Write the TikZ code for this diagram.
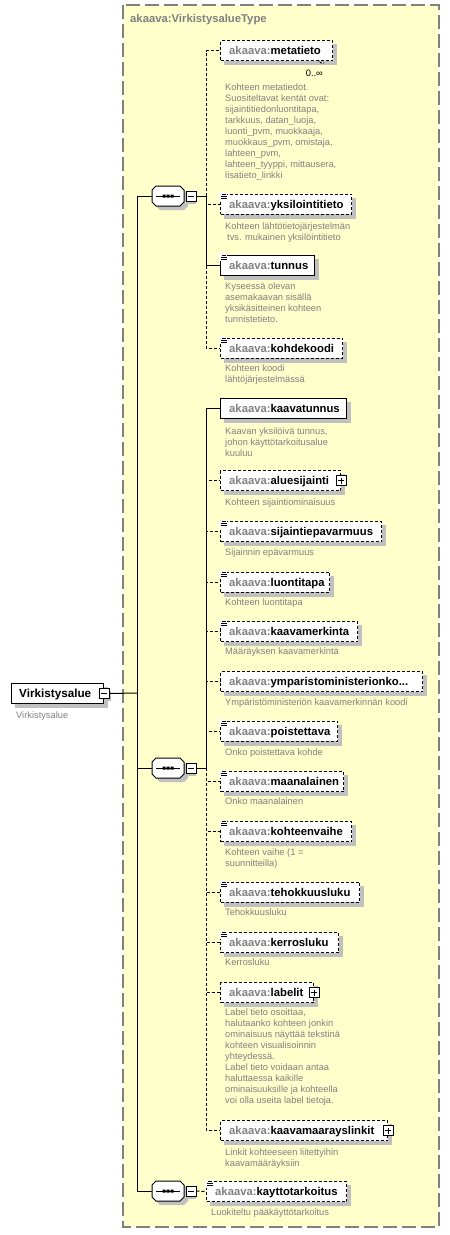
\documentclass[tikz,border=0pt]{standalone}
\usepackage{fontspec}
\setmainfont{Liberation Sans}
\usetikzlibrary{calc}
\definecolor{bgyellow}{HTML}{FFFFCC}
\definecolor{shad}{HTML}{C0C0C0}
\definecolor{tgray}{HTML}{808080}
\pgfdeclarelayer{backlayer}
\pgfdeclarelayer{shadowlayer}
\pgfsetlayers{backlayer,shadowlayer,main}
\tikzset{
  conn/.style={line width=1pt, draw=black},
  optconn/.style={conn, dash pattern=on 3pt off 2pt},
  boxreq/.style={draw=black, line width=1pt, fill=white, minimum height=20pt, inner sep=0pt, anchor=north west},
  boxopt/.style={boxreq, dash pattern=on 3pt off 2pt},
  lbl/.style={font=\fontsize{11.3}{13}\selectfont\bfseries, inner sep=0pt, anchor=base west},
  desc/.style={font=\fontsize{9.3}{10.9}\selectfont, text=tgray, align=left, inner sep=0pt, anchor=north west},
  pmbox/.style={draw=black, fill=white, line width=1pt, minimum size=10pt, inner sep=0pt},
  minusbox/.style={pmbox, path picture={\draw[line width=1pt] ([xshift=-3pt]path picture bounding box.center) -- ([xshift=3pt]path picture bounding box.center);}},
  plusbox/.style={pmbox, path picture={\draw[line width=1pt] ([xshift=-3pt]path picture bounding box.center) -- ([xshift=3pt]path picture bounding box.center) ([yshift=-3pt]path picture bounding box.center) -- ([yshift=3pt]path picture bounding box.center);}},
}
\newcommand\El[6]{%
  \node[#5, minimum width=#4pt-#2pt] (#1) at (#2,#3-10) {};
  \begin{pgfonlayer}{shadowlayer}
    \fill[shad] ([shift={(4pt,-4pt)}]#1.south west) rectangle ([shift={(4pt,-4pt)}]#1.north east);
  \end{pgfonlayer}
  \node[lbl] (#1-t) at ([shift={(9pt,-4pt)}]#1.west) {\textcolor{tgray}{akaava:}#6};
}
\newcommand\Ico[1]{%
  \fill[white] ([shift={(-1.5pt,1.5pt)}]#1.north west) rectangle ([shift={(7pt,-6.5pt)}]#1.north west);
  \draw[line width=0.8pt] ([shift={(2pt,-0.5pt)}]#1.north west) -- ++(4,0)
     ([shift={(1pt,-2.5pt)}]#1.north west) -- ++(6,0)
     ([shift={(1pt,-4.5pt)}]#1.north west) -- ++(6,0);
}
\newcommand\Plus[1]{\node[plusbox] (#1-p) at (#1.east) {};}
\newcommand\Desc[4]{\node[desc] (#1) at (#2,#3-4) {#4};}
\newcommand\Seq[3]{%
  \begin{pgfonlayer}{shadowlayer}
    \fill[shad,shift={(#2+4,#3+4)}] (-16,-6) -- (-12,-10) -- (12,-10) -- (16,-6) -- (16,6) -- (12,10) -- (-12,10) -- (-16,6) -- cycle;
    \fill[shad] (#2+18,#3-2) rectangle (#2+28,#3+8);
  \end{pgfonlayer}
  \draw[line width=1pt, fill=white, shift={(#2,#3)}] (-16,-6) -- (-12,-10) -- (12,-10) -- (16,-6) -- (16,6) -- (12,10) -- (-12,10) -- (-16,6) -- cycle;
  \draw[line width=1pt, shift={(#2,#3)}] (-12,0) -- (12,0);
  \fill[shift={(#2,#3)}] (-5.5,-1.5) rectangle (-2.5,1.5) (-1.5,-1.5) rectangle (1.5,1.5) (2.5,-1.5) rectangle (5.5,1.5);
  \node[inner sep=0pt, minimum width=32pt, minimum height=20pt] (#1) at (#2,#3) {};
  \node[minusbox] (#1-m) at (#2+23,#3) {};
}
\begin{document}
\begin{tikzpicture}[x=1pt,y=-1pt]
\useasboundingbox (0,0) rectangle (450,1235);
% outer type box
\begin{pgfonlayer}{backlayer}
  \fill[bgyellow] (123,5) rectangle (439,1227);
\end{pgfonlayer}
\draw[tgray, line width=1.3pt, dash pattern=on 14pt off 5pt] (123,5) rectangle (439,1227);
\node[lbl, text=tgray] (title) at (130,22) {akaava:VirkistysalueType};

% main element
\node[boxreq, minimum width=92pt] (main) at (11,683) {};
\begin{pgfonlayer}{shadowlayer}
  \fill[shad] ([shift={(4pt,-4pt)}]main.south west) rectangle ([shift={(4pt,-4pt)}]main.north east);
  \fill[shad] (101,691) rectangle (111,701);
\end{pgfonlayer}
\node[lbl, font=\fontsize{11.7}{13}\selectfont\bfseries] (main-t) at ([shift={(8pt,-4pt)}]main.west) {Virkistysalue};
\node[minusbox] (main-m) at (main.east) {};
\Desc{main-d}{16}{716}{Virkistysalue}

% sequences
\Seq{s1}{168}{196}
\Seq{s2}{168}{768}
\Seq{s3}{168}{1191}

\coordinate (mj) at (137,693);
\coordinate (b1) at (206,196);
\coordinate (b2) at (206,768);

% ---- sequence 1 elements
\El{metatieto}{220}{50}{332}{boxopt}{metatieto}
\draw[line width=0.8pt, dash pattern=on 2pt off 1pt] (318,60) -- (321,63) -- (324,63);
\node[font=\fontsize{9.3}{11}\selectfont, inner sep=0pt, anchor=base east] (mult) at (323,76) {0..∞};
\Desc{metatieto-d}{225}{88}{Kohteen metatiedot.\\Suositeltavat kentät ovat:\\sijaintitiedonluontitapa,\\tarkkuus, datan\_luoja,\\luonti\_pvm, muokkaaja,\\muokkaus\_pvm, omistaja,\\lahteen\_pvm,\\lahteen\_tyyppi, mittausera,\\lisatieto\_linkki}

\El{yksilointitieto}{220}{203.5}{351}{boxopt}{yksilointitieto}
\Ico{yksilointitieto}
\Desc{yksilointitieto-d}{225}{227}{Kohteen lähtötietojärjestelmän\\\hspace*{2pt}tvs. mukainen yksilöintitieto}

\El{tunnus}{220}{264.5}{314}{boxreq}{tunnus}
\Ico{tunnus}
\Desc{tunnus-d}{225}{287}{Kyseessä olevan\\asemakaavan sisällä\\yksikäsitteinen kohteen\\tunnistetieto.}

\El{kohdekoodi}{220}{347.5}{342}{boxopt}{kohdekoodi}
\Ico{kohdekoodi}
\Desc{kohdekoodi-d}{225}{369}{Kohteen koodi\\lähtöjärjestelmässä}

% ---- sequence 2 elements
\El{kaavatunnus}{220}{408}{346}{boxreq}{kaavatunnus}
\Desc{kaavatunnus-d}{225}{432}{Kaavan yksilöivä tunnus,\\johon käyttötarkoitusalue\\kuuluu}

\El{aluesijainti}{220}{480}{340}{boxopt}{aluesijainti}
\Plus{aluesijainti}
\Desc{aluesijainti-d}{225}{503}{Kohteen sijaintiominaisuus}

\El{sijaintiepavarmuus}{220}{531}{381}{boxopt}{sijaintiepavarmuus}
\Ico{sijaintiepavarmuus}
\Desc{sijaintiepavarmuus-d}{225}{553}{Sijainnin epävarmuus}

\El{luontitapa}{220}{581.5}{329}{boxopt}{luontitapa}
\Ico{luontitapa}
\Desc{luontitapa-d}{225}{603}{Kohteen luontitapa}

\El{kaavamerkinta}{220}{631}{357}{boxopt}{kaavamerkinta}
\Ico{kaavamerkinta}
\Desc{kaavamerkinta-d}{225}{652}{Määräyksen kaavamerkintä}

\El{ymparisto}{220}{681}{422}{boxopt}{ymparistoministerionko...}
\Desc{ymparisto-d}{225}{703}{Ympäristöministeriön kaavamerkinnän koodi}

\El{poistettava}{220}{730.5}{337}{boxopt}{poistettava}
\Ico{poistettava}
\Desc{poistettava-d}{225}{753}{Onko poistettava kohde}

\El{maanalainen}{220}{781}{343}{boxopt}{maanalainen}
\Ico{maanalainen}
\Desc{maanalainen-d}{225}{802}{Onko maanalainen}

\El{kohteenvaihe}{220}{831}{351}{boxopt}{kohteenvaihe}
\Ico{kohteenvaihe}
\Desc{kohteenvaihe-d}{225}{853}{Kohteen vaihe (1 =\\suunnitteilla)}

\El{tehokkuusluku}{220}{891.5}{359}{boxopt}{tehokkuusluku}
\Ico{tehokkuusluku}
\Desc{tehokkuusluku-d}{225}{913}{Tehokkuusluku}

\El{kerrosluku}{220}{942}{338}{boxopt}{kerrosluku}
\Ico{kerrosluku}
\Desc{kerrosluku-d}{225}{963}{Kerrosluku}

\El{labelit}{220}{992}{313}{boxopt}{labelit}
\Plus{labelit}
\Desc{labelit-d}{225}{1013}{Label tieto osoittaa,\\halutaanko kohteen jonkin\\ominaisuus näyttää tekstinä\\kohteen visualisoinnin\\yhteydessä.\\Label tieto voidaan antaa\\haluttaessa kaikille\\ominaisuuksille ja kohteella\\voi olla useita label tietoja.}

\El{kaavamaarayslinkit}{220}{1130}{387}{boxopt}{kaavamaarayslinkit}
\Plus{kaavamaarayslinkit}
\Desc{kaavamaarayslinkit-d}{225}{1153}{Linkit kohteeseen liitettyihin\\kaavamääräyksiin}

% ---- sequence 3 element
\El{kayttotarkoitus}{206}{1191}{346}{boxopt}{kayttotarkoitus}
\Ico{kayttotarkoitus}
\Desc{kayttotarkoitus-d}{211}{1213}{Luokiteltu pääkäyttötarkoitus}

% ---- connectors
\draw[conn] (main-m.east) -- (mj);
\draw[conn] (s1.west) -| (mj);
\draw[conn] (s2.west) -- (s2.west -| mj);
\draw[conn] (s3.west) -| (mj);

\draw[conn] (s1-m.east) -- (b1);
\draw[conn] (s2-m.east) -- (b2);
\draw[optconn] (s3-m.east) -- (kayttotarkoitus.west);

\draw[optconn] (b1) |- (metatieto.west);
\draw[optconn] (b1) |- (yksilointitieto.west);
\draw[optconn] (b1) |- (kohdekoodi.west);
\draw[conn] (b1) |- (tunnus.west);

\foreach \e in {aluesijainti,sijaintiepavarmuus,luontitapa,kaavamerkinta,ymparisto,poistettava,maanalainen,kohteenvaihe,tehokkuusluku,kerrosluku,labelit,kaavamaarayslinkit}
  \draw[optconn] (b2) |- (\e.west);
\draw[conn] (b2) |- (kaavatunnus.west);
\end{tikzpicture}
\end{document}
